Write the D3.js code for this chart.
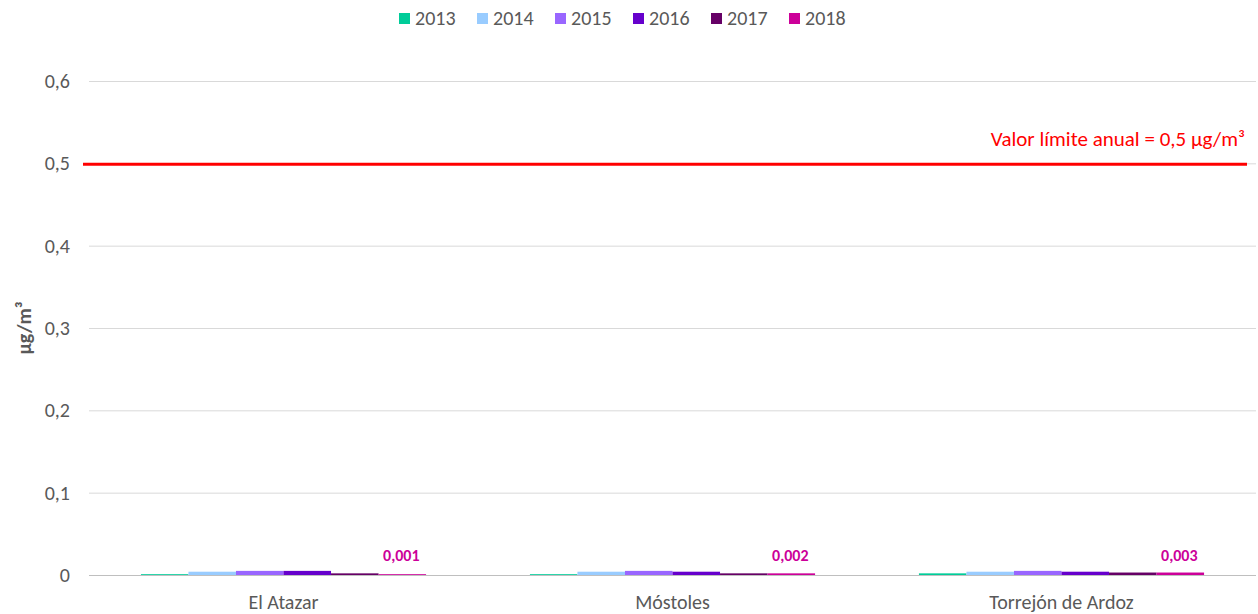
<!DOCTYPE html>
<html><head><meta charset="utf-8">
<script src="https://cdn.jsdelivr.net/npm/d3@7"></script>
<style>body{margin:0;background:#fff}svg{display:block}text{font-family:Carlito,Lato,"Open Sans",sans-serif}</style>
</head><body><svg id="c" width="1258" height="614"></svg>
<script>
const categories = ["El Atazar", "Móstoles", "Torrejón de Ardoz"];
const years = ["2013", "2014", "2015", "2016", "2017", "2018"];
const colors = ["#00CC99", "#99CCFF", "#9966FF", "#6600CC", "#660066", "#CC0099"];
const v2013 = [0.001, 0.001, 0.002];
const v2014 = [0.004, 0.004, 0.004];
const v2015 = [0.005, 0.005, 0.005];
const v2016 = [0.005, 0.004, 0.004];
const v2017 = [0.002, 0.002, 0.003];
const v2018 = [0.001, 0.002, 0.003];
const series = [v2013, v2014, v2015, v2016, v2017, v2018];
const labels2018 = ["0,001", "0,002", "0,003"];
const yTicks = [0, 0.1, 0.2, 0.3, 0.4, 0.5, 0.6];
const limitValue = 0.5;
const limitLabel = "Valor límite anual = 0,5 µg/m³";

const svg = d3.select("#c");
const L = 89, R = 1256, T = 81, B = 575;
const x0 = d3.scaleBand().domain(categories).range([L, R]).paddingInner(0.267).paddingOuter(0.1335);
const x1 = d3.scaleBand().domain(years).range([0, x0.bandwidth()]);
const y = d3.scaleLinear().domain([0, 0.6]).range([B, T]);
const fmt = v => String(v).replace(".", ",");

// gridlines
svg.append("g").selectAll("line").data(yTicks).join("line")
  .attr("x1", L).attr("x2", R).attr("y1", d => y(d) + 0.5).attr("y2", d => y(d) + 0.5)
  .attr("stroke", d => d === 0 ? "#bfbfbf" : "#d9d9d9").attr("stroke-width", 1);

// y tick labels
svg.append("g").selectAll("text").data(yTicks).join("text")
  .attr("x", 70).attr("y", d => y(d)).attr("dy", "0.35em").attr("text-anchor", "end")
  .attr("font-size", 20).attr("fill", "#595959").text(fmt);

// y axis title
svg.append("text").attr("transform", `translate(31,${(T + B) / 2}) rotate(-90)`)
  .attr("text-anchor", "middle").attr("font-size", 20).attr("font-weight", "bold").attr("fill", "#595959")
  .text("µg/m³");

// bars
const g = svg.append("g");
categories.forEach((c, i) => {
  series.forEach((s, j) => {
    g.append("rect").attr("x", x0(c) + x1(years[j])).attr("width", x1.bandwidth())
      .attr("y", y(s[i])).attr("height", B - y(s[i])).attr("fill", colors[j]);
  });
  g.append("text").attr("x", x0(c) + x1("2018") + x1.bandwidth() / 2 - 1).attr("y", 561)
    .attr("text-anchor", "middle").attr("font-size", 16).attr("font-weight", "bold").attr("fill", "#CC0099")
    .text(labels2018[i]);
});

// category labels
svg.append("g").selectAll("text").data(categories).join("text")
  .attr("x", d => x0(d) + x0.bandwidth() / 2).attr("y", 609).attr("text-anchor", "middle")
  .attr("font-size", 20).attr("fill", "#595959").text(d => d);

// limit line
svg.append("line").attr("x1", 83).attr("x2", 1247).attr("y1", y(limitValue) + 1).attr("y2", y(limitValue) + 1)
  .attr("stroke", "#FF0000").attr("stroke-width", 3);
svg.append("text").attr("x", 1245).attr("y", 146).attr("text-anchor", "end")
  .attr("font-size", 21).attr("fill", "#FF0000").text(limitLabel);

// legend
const lg = svg.append("g");
const lx = 399, step = 78;
years.forEach((yr, j) => {
  lg.append("rect").attr("x", lx + j * step).attr("y", 13).attr("width", 11).attr("height", 11).attr("fill", colors[j]);
  lg.append("text").attr("x", lx + j * step + 16).attr("y", 25)
    .attr("font-size", 20).attr("fill", "#595959").text(yr);
});
</script></body></html>
